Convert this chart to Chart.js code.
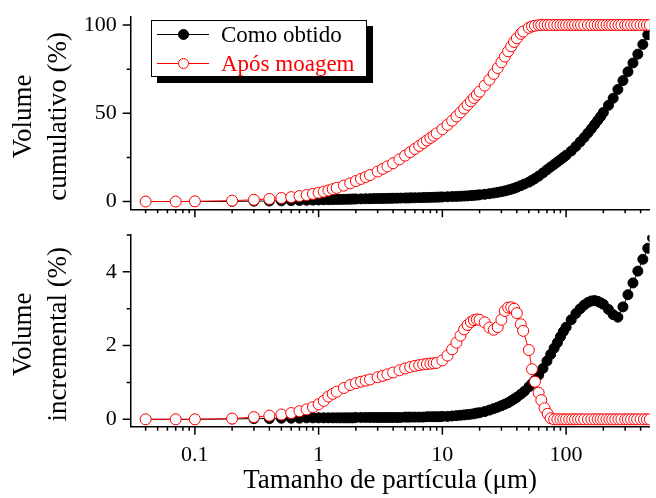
<!DOCTYPE html>
<html>
<head>
<meta charset="utf-8">
<script src="https://cdn.jsdelivr.net/npm/chart.js@4.4.1/dist/chart.umd.min.js"></script>
<style>
  html, body { margin: 0; padding: 0; background: #fff; }
  #wrap { position: relative; width: 656px; height: 498px; overflow: hidden;
          font-family: "Liberation Serif", "Times New Roman", serif; }
  #wrap canvas { position: absolute; left: 0; }
  #legend { position: absolute; left: 151px; top: 20px; width: 214px; height: 55px;
            border: 1px solid #000; background: #fff; box-shadow: 6px 6px 0 #000; z-index: 5; }
  .row { position: absolute; left: 0; width: 214px; height: 28px; line-height: 28px;
         font-family: "Liberation Serif", "Times New Roman", serif;
         font-size: 23px; white-space: nowrap; }
  .sample { position: absolute; left: 5px; width: 52px; top: 13px; height: 0; border-top: 1.5px solid; }
  .dot { position: absolute; left: 21px; top: -6px; width: 11px; height: 11px;
         border-radius: 50%; box-sizing: border-box; border: 1px solid; }
  .txt { position: absolute; left: 69px; top: 0; }
</style>
</head>
<body>
<div id="wrap">
  <canvas id="topChart" width="656" height="235" style="top:0"></canvas>
  <canvas id="bottomChart" width="656" height="293" style="top:205px"></canvas>
  <div id="legend">
    <div class="row" style="top:0">
      <span class="sample" style="border-color:#000"><span class="dot" style="background:#000;border-color:#000"></span></span>
      <span class="txt" style="color:#000">Como obtido</span>
    </div>
    <div class="row" style="top:29px">
      <span class="sample" style="border-color:#ff0000"><span class="dot" style="background:#fff;border-color:#ff0000"></span></span>
      <span class="txt" style="color:#ff0000">Após moagem</span>
    </div>
  </div>
</div>
<script>
// Como obtido (black, filled)
const sizesComo = [0.04, 0.07, 0.1, 0.2, 0.3, 0.4, 0.5, 0.6, 0.7, 0.8, 0.9,
  1.0, 1.1, 1.2, 1.3, 1.4, 1.5, 1.6, 1.7, 1.8, 1.9,
  2.0, 2.2, 2.4, 2.6, 2.8, 3.0, 3.2, 3.4, 3.6, 3.8,
  4.0, 4.3, 4.6, 5.0, 5.3, 5.6, 6.0, 6.5, 7.0, 7.5, 8.0, 8.5, 9.0, 9.5,
  10, 11, 12, 13, 14, 15, 16, 17, 18, 19,
  20, 22, 24, 26, 28, 30, 32, 34, 36, 38,
  40, 43, 46, 50, 53, 56, 60, 65, 70, 75, 80, 85, 90, 95,
  100, 110, 120, 130, 140, 150, 160, 170, 180, 190,
  200, 220, 240, 262, 288, 316, 347, 380, 417, 457, 500];
const cumComo = [0, 0, 0, 0.1, 0.2, 0.3, 0.4, 0.5, 0.6, 0.7, 0.8,
  0.9, 1.0, 1.05, 1.1, 1.15, 1.2, 1.25, 1.3, 1.35, 1.4,
  1.45, 1.5, 1.55, 1.6, 1.65, 1.7, 1.73, 1.76, 1.8, 1.83,
  1.86, 1.9, 1.95, 2.0, 2.04, 2.08, 2.12, 2.18, 2.24, 2.3, 2.36, 2.42, 2.48, 2.54,
  2.6, 2.7, 2.8, 2.9, 3.0, 3.1, 3.2, 3.35, 3.5, 3.65,
  3.8, 4.1, 4.45, 4.8, 5.2, 5.6, 6.0, 6.5, 7.0, 7.5,
  8.1, 9.0, 9.9, 11.0, 12.0, 13.0, 14.4, 16.2, 18.0, 19.6, 21.0, 22.4, 23.7, 25.0,
  26.2, 28.6, 31.2, 33.8, 36.3, 38.8, 41.2, 43.6, 45.9, 48.1,
  50.5, 54.5, 58.5, 63.5, 68.5, 73.5, 78.5, 83.5, 89.0, 94.5, 99.5];
const incComo = [0, 0, 0, 0.01, 0.02, 0.02, 0.03, 0.03, 0.03, 0.04, 0.04,
  0.04, 0.04, 0.04, 0.04, 0.04, 0.04, 0.04, 0.04, 0.04, 0.04,
  0.05, 0.05, 0.05, 0.05, 0.05, 0.05, 0.05, 0.05, 0.05, 0.05,
  0.05, 0.05, 0.05, 0.06, 0.06, 0.06, 0.06, 0.06, 0.06, 0.07, 0.07, 0.07, 0.07, 0.07,
  0.08, 0.08, 0.09, 0.10, 0.11, 0.12, 0.13, 0.14, 0.15, 0.17,
  0.18, 0.21, 0.25, 0.29, 0.33, 0.37, 0.41, 0.45, 0.50, 0.55,
  0.60, 0.68, 0.76, 0.88, 0.97, 1.06, 1.20, 1.38, 1.58, 1.76, 1.93, 2.08, 2.24, 2.38,
  2.50, 2.70, 2.87, 3.00, 3.10, 3.17, 3.21, 3.22, 3.20, 3.16,
  3.12, 2.98, 2.84, 2.77, 3.05, 3.38, 3.70, 4.02, 4.34, 4.64, 4.92];

// Após moagem (red, open)
const sizesMoagem = [0.04, 0.07, 0.1, 0.2, 0.3, 0.4, 0.5, 0.6, 0.7, 0.8, 0.9,
  1.0, 1.1, 1.2, 1.3, 1.4, 1.6, 1.8, 2.0, 2.2, 2.4, 2.6, 3.0, 3.3, 3.6,
  4.0, 4.5, 5.0, 5.5, 6.0, 6.5, 7.0, 7.5, 8.0, 8.5, 9.0,
  10, 11, 12, 13, 14, 15, 16, 17, 18, 19, 20, 22, 24, 26, 28, 30, 32, 34, 36, 38,
  40, 43, 45, 50, 53, 56, 60, 63, 67, 71, 75, 80, 85, 90, 95,
  100, 106, 112, 118, 125, 132, 140, 150, 160, 170, 180, 190,
  200, 212, 224, 236, 250, 265, 280, 300, 315, 335, 355, 375,
  400, 425, 450, 475, 500];
const cumMoagem = [0, 0, 0.1, 0.5, 1.0, 1.5, 2.0, 2.5, 3.1, 3.7, 4.3,
  5.0, 5.6, 6.3, 7.0, 7.7, 9.0, 10.3, 11.6, 12.8, 13.9, 15.0, 17.0, 18.5, 19.9,
  21.7, 23.9, 26.0, 28.0, 29.8, 31.5, 33.1, 34.6, 36.0, 37.3, 38.6,
  41.0, 43.4, 45.8, 48.2, 50.5, 52.7, 54.8, 56.8, 58.7, 60.5, 62.3, 65.7, 69.0, 72.3, 75.6, 78.9, 82.1, 85.1, 87.9, 90.4,
  92.5, 95.0, 96.3, 98.4, 99.2, 99.6, 99.9, 100, 100, 100, 100, 100, 100, 100, 100,
  100, 100, 100, 100, 100, 100, 100, 100, 100, 100, 100, 100,
  100, 100, 100, 100, 100, 100, 100, 100, 100, 100, 100, 100,
  100, 100, 100, 100, 100];
const incMoagem = [0, 0, 0, 0.02, 0.06, 0.10, 0.13, 0.17, 0.22, 0.27, 0.33,
  0.41, 0.50, 0.62, 0.69, 0.75, 0.85, 0.93, 0.98, 1.02, 1.05, 1.08, 1.14, 1.18, 1.22,
  1.27, 1.33, 1.38, 1.42, 1.45, 1.47, 1.49, 1.50, 1.51, 1.52, 1.53,
  1.60, 1.73, 1.90, 2.08, 2.27, 2.44, 2.56, 2.64, 2.69, 2.71, 2.70, 2.63, 2.49, 2.43, 2.50, 2.70, 2.94, 3.03, 3.04, 3.00,
  2.88, 2.58, 2.40, 1.88, 1.36, 1.02, 0.72, 0.52, 0.30, 0.15, 0.03, 0, 0, 0, 0,
  0, 0, 0, 0, 0, 0, 0, 0, 0, 0, 0, 0,
  0, 0, 0, 0, 0, 0, 0, 0, 0, 0, 0, 0,
  0, 0, 0, 0, 0];

// axis ticks
const xMajorTicks = [0.1, 1, 10, 100];
const xMinorTicks = [0.04, 0.05, 0.06, 0.07, 0.08, 0.09,
  0.2, 0.3, 0.4, 0.5, 0.6, 0.7, 0.8, 0.9,
  2, 3, 4, 5, 6, 7, 8, 9,
  20, 30, 40, 50, 60, 70, 80, 90,
  200, 300, 400];
const yTicksTop = [0, 25, 50, 75, 100];
const yLabelsTop = [0, 50, 100];
const yTicksBottom = [0, 1, 2, 3, 4, 5];
const yLabelsBottom = [0, 2, 4];

Chart.defaults.font.family = "'Liberation Serif', 'Times New Roman', serif";
Chart.defaults.color = '#000';

const toPoints = (xs, ys) => xs.map((x, i) => ({ x: x, y: ys[i] }));

// tick marks drawn outward, long for major and short for minor
const tickMarks = {
  id: 'tickMarks',
  afterDraw(chart) {
    const ctx = chart.ctx;
    const xs = chart.scales.x, ys = chart.scales.y;
    ctx.save();
    ctx.strokeStyle = '#000';
    ctx.lineWidth = 1.5;
    ctx.beginPath();
    xs.ticks.forEach(t => {
      const px = xs.getPixelForValue(t.value);
      if (px < xs.left - 1 || px > xs.right + 1) return;
      ctx.moveTo(px, xs.top);
      ctx.lineTo(px, xs.top + (t.major ? 8 : 4));
    });
    ys.ticks.forEach(t => {
      const py = ys.getPixelForValue(t.value);
      ctx.moveTo(ys.right, py);
      ctx.lineTo(ys.right - (t.major ? 8 : 4), py);
    });
    ctx.stroke();
    ctx.restore();
  }
};

const datasets = (cumulative) => [
  {
    label: 'Como obtido',
    data: toPoints(sizesComo, cumulative ? cumComo : incComo),
    borderColor: '#000',
    borderWidth: 1,
    pointRadius: 5,
    pointBackgroundColor: '#000',
    pointBorderColor: '#000',
    pointBorderWidth: 1,
    order: 2
  },
  {
    label: 'Após moagem',
    data: toPoints(sizesMoagem, cumulative ? cumMoagem : incMoagem),
    borderColor: '#ff0000',
    borderWidth: 1,
    pointRadius: 5.5,
    pointBackgroundColor: '#fff',
    pointBorderColor: '#ff0000',
    pointBorderWidth: 1,
    order: 1
  }
];

const xScale = (showLabels, height, title) => ({
  type: 'logarithmic',
  min: 0.0303,
  max: 472,
  afterBuildTicks: s => {
    s.ticks = xMajorTicks.concat(xMinorTicks).sort((a, b) => a - b)
      .map(v => ({ value: v, major: xMajorTicks.includes(v) }));
  },
  afterFit: s => { s.height = height; s.paddingLeft = 0; s.paddingRight = 0; },
  grid: { display: false, drawTicks: false },
  border: { display: true, color: '#000', width: 1.5 },
  ticks: {
    autoSkip: false,
    maxRotation: 0,
    padding: 15,
    font: { size: 22 },
    callback: v => (showLabels && xMajorTicks.includes(v)) ? String(v) : ''
  },
  title: title ? {
    display: true,
    text: title,
    font: { size: 27 },
    padding: { top: 0, bottom: 1 }
  } : { display: false }
});

const yScale = (min, max, tickVals, labelVals, title) => ({
  type: 'linear',
  min: min,
  max: max,
  afterBuildTicks: s => {
    s.ticks = tickVals.map(v => ({ value: v, major: labelVals.includes(v) }));
  },
  afterFit: s => { s.width = 130.7; s.paddingTop = 0; s.paddingBottom = 0; },
  grid: { display: false, drawTicks: false },
  border: { display: true, color: '#000', width: 1.5 },
  ticks: {
    autoSkip: false,
    padding: 14,
    font: { size: 22 },
    callback: v => labelVals.includes(v) ? String(v) : ''
  },
  title: {
    display: true,
    text: title,
    font: { size: 27, lineHeight: 1.3 },
    padding: { top: 6.5, bottom: 0 }
  }
});

const commonOptions = {
  responsive: false,
  animation: false,
  devicePixelRatio: 1,
  events: [],
  plugins: { legend: { display: false }, tooltip: { enabled: false } }
};

new Chart(document.getElementById('topChart'), {
  type: 'line',
  data: { datasets: datasets(true) },
  options: Object.assign({}, commonOptions, {
    layout: { padding: { top: 16.7, left: 0, right: 0, bottom: 0 } },
    scales: {
      x: xScale(false, 25.7, null),
      y: yScale(-4.4, 104.7, yTicksTop, yLabelsTop, ['Volume ', 'cumulativo (%) '])
    }
  }),
  plugins: [tickMarks]
});

new Chart(document.getElementById('bottomChart'), {
  type: 'line',
  data: { datasets: datasets(false) },
  options: Object.assign({}, commonOptions, {
    layout: { padding: { top: 30, left: 0, right: 0, bottom: 0 } },
    scales: {
      x: xScale(true, 71.3, 'Tamanho de partícula (μm)'),
      y: yScale(-0.2, 5.0, yTicksBottom, yLabelsBottom, ['Volume ', 'incremental (%) '])
    }
  }),
  plugins: [tickMarks]
});
</script>
</body>
</html>
